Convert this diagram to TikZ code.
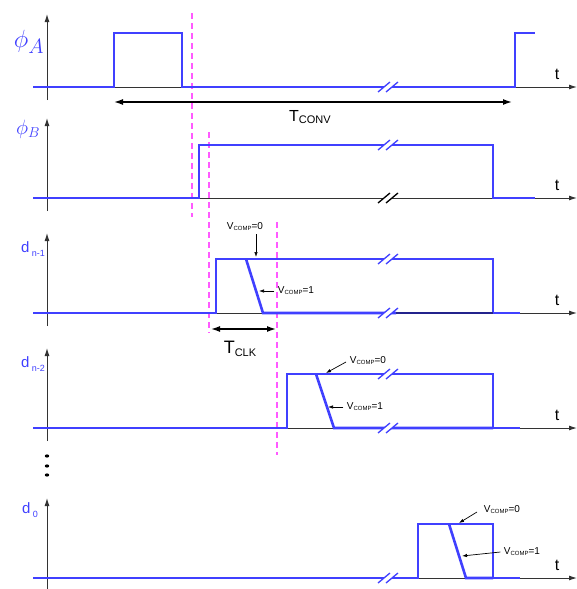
\documentclass[tikz,border=0pt]{standalone}
\usepackage{fontspec}
\setmainfont{Liberation Sans}
\usetikzlibrary{arrows.meta}

\definecolor{sigblue}{RGB}{64,64,255}
\definecolor{clkpink}{RGB}{255,90,255}

\tikzset{
  sig/.style={sigblue, line width=2.6pt},
  taxis/.style={black!80, line width=1pt, -{Latex[length=8pt,width=5pt]}},
  guide/.style={clkpink, line width=1.3pt, dash pattern=on 6pt off 4pt},
  note/.style={black, line width=0.7pt, -{Latex[length=5pt,width=3.5pt]}},
  spanarrow/.style={black, line width=1.4pt, {Latex[length=9pt,width=6pt]}-{Latex[length=9pt,width=6pt]}},
}

% break mark on a line at (x,y)
\newcommand{\brkmark}[3][sigblue]{
  \fill[white] (#2-10,#3+5) -- (#2+2,#3-5) -- (#2+10,#3-5) -- (#2-2,#3+5) -- cycle;
  \draw[#1, line width=1.3pt] (#2-10,#3+5) -- (#2+2,#3-5) (#2-2,#3+5) -- (#2+10,#3-5);
}
\newcommand{\vcomp}[1]{\fontsize{10}{10}\selectfont V\raisebox{-0.2ex}{\fontsize{6}{6}\selectfont COMP}=#1}

\begin{document}
\begin{tikzpicture}[x=1pt,y=-1pt]
  \useasboundingbox (0,0) rectangle (577,589);

  % axes
  \foreach \yb/\yt in {87/14,198/118,313/233,428/348,578/498}{
    \draw[taxis] (47,\yb+13) -- (47,\yt);
    \draw[taxis] (33,\yb) -- (577,\yb);
    \node (t\yb) at (557,\yb-13) {\fontsize{16}{16}\selectfont t};
  }

  % clock edges
  \draw[guide] (192,13) -- (192,217);
  \draw[guide] (209,132) -- (209,333);
  \draw[guide] (277,222) -- (277,455);

  % phi_A
  \node[sigblue] (phiA) at (29,42) {\fontsize{28}{28}\selectfont$\phi_A$};
  \draw[sig] (33,87) -| (114,33) -| (182,87) -- (515,87) |- (535,33);
  \brkmark{388}{87}
  \draw[spanarrow] (114,102) -- (512,102);
  \node (tconv) at (310,117) {\fontsize{16}{16}\selectfont T\raisebox{-0.3ex}{\fontsize{11}{11}\selectfont CONV}};

  % phi_B
  \node[sigblue] (phiB) at (28,129) {\fontsize{20}{20}\selectfont$\phi_B$};
  \draw[sig] (33,198) -- (199,198) |- (493,145) |- (535,198);
  \brkmark{388}{145}
  \brkmark[black]{388}{198}

  % d_{n-1}
  \node[sigblue] (dA) at (33,249) {\fontsize{15}{15}\selectfont d\,\raisebox{-0.6ex}{\fontsize{9}{9}\selectfont n-1}};
  \draw[sig] (33,313) -- (216,313) |- (493,259) |- (520,313);
  \draw[sig] (246,259) -- (263,313) -- (396,313);
  \draw[sigblue!55!black, line width=2.6pt] (396,313) -- (493,313);
  \brkmark{388}{259}
  \brkmark{388}{313}
  \node (vA0) at (245,227) {\vcomp{0}};
  \draw[note] (256,234) -- (256,257);
  \node (vA1) at (296,291) {\vcomp{1}};
  \draw[note] (vA1.west) -- (259,291);
  \draw[spanarrow] (211,329) -- (276,329);
  \node (tclk) at (240,349) {\fontsize{18}{18}\selectfont T\raisebox{-0.3ex}{\fontsize{11}{11}\selectfont CLK}};

  % d_{n-2}
  \node[sigblue] (dB) at (33,364) {\fontsize{15}{15}\selectfont d\,\raisebox{-0.6ex}{\fontsize{9}{9}\selectfont n-2}};
  \draw[sig] (33,428) -- (287,428) |- (493,374) |- (520,428);
  \draw[sig] (316,374) -- (334,428) -- (493,428);
  \brkmark{388}{374}
  \brkmark{388}{428}
  \node (vB0) at (368,361) {\vcomp{0}};
  \draw[note] (346,362) -- (326,373);
  \node (vB1) at (365,407) {\vcomp{1}};
  \draw[note] (vB1.west) -- (328,407);

  % dots
  \foreach \yd in {456,466,475}
    \fill (47,\yd) ellipse (2.2 and 1.6);

  % d_0
  \node[sigblue] (dC) at (30,510) {\fontsize{15}{15}\selectfont d\,\raisebox{-0.6ex}{\fontsize{9}{9}\selectfont 0}};
  \draw[sig] (33,578) -- (418,578) |- (493,524) |- (520,578);
  \draw[sig] (449,524) -- (466,578) -- (493,578);
  \brkmark{388}{578}
  \node (vC0) at (502,510) {\vcomp{0}};
  \draw[note] (477,512) -- (459,523);
  \node (vC1) at (522,552) {\vcomp{1}};
  \draw[note] (vC1.west) -- (462,556);
\end{tikzpicture}
\end{document}
